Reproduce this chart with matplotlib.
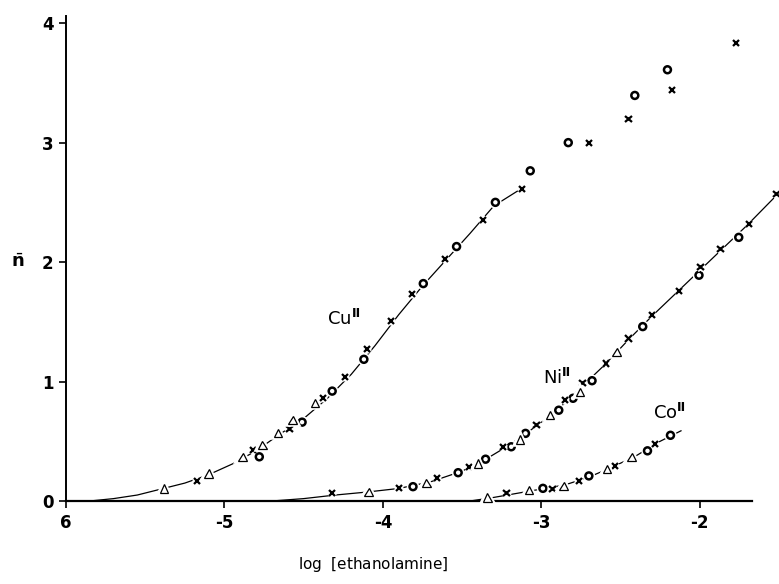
import matplotlib
matplotlib.use("Agg")
import matplotlib.pyplot as plt
import matplotlib.patheffects as pe

# --- Cu(II): measured points (circles, crosses, triangles) ---
cu_o_x = [-4.78, -4.51, -4.32, -4.12, -3.745, -3.535, -3.29, -3.07, -2.83, -2.41, -2.204]
cu_o_y = [0.37, 0.66, 0.92, 1.186, 1.82, 2.13, 2.50, 2.764, 3.00, 3.395, 3.61]
cu_x_x = [-5.175, -4.82, -4.59, -4.38, -4.24, -4.10, -3.95, -3.815, -3.61, -3.367, -3.12,
          -2.70, -2.45, -2.175, -1.773]
cu_x_y = [0.167, 0.427, 0.60, 0.86, 1.04, 1.27, 1.506, 1.73, 2.025, 2.35, 2.61,
          3.00, 3.20, 3.44, 3.835]
cu_t_x = [-5.38, -5.10, -4.885, -4.76, -4.66, -4.57, -4.43]
cu_t_y = [0.106, 0.23, 0.37, 0.47, 0.567, 0.68, 0.82]

# --- Ni(II) ---
ni_o_x = [-3.81, -3.525, -3.352, -3.19, -3.10, -2.89, -2.80, -2.68, -2.36, -2.005, -1.754]
ni_o_y = [0.12, 0.237, 0.35, 0.454, 0.566, 0.76, 0.86, 1.007, 1.46, 1.89, 2.207]
ni_x_x = [-4.32, -3.90, -3.66, -3.457, -3.24, -3.03, -2.85, -2.74, -2.59, -2.45, -2.30,
          -2.13, -1.996, -1.87, -1.69, -1.516]
ni_x_y = [0.064, 0.11, 0.195, 0.287, 0.454, 0.636, 0.845, 0.985, 1.15, 1.36, 1.557,
          1.76, 1.96, 2.11, 2.32, 2.57]
ni_t_x = [-4.09, -3.725, -3.40, -3.135, -2.946, -2.757, -2.525]
ni_t_y = [0.078, 0.148, 0.315, 0.516, 0.72, 0.915, 1.245]

# --- Co(II) ---
co_o_x = [-2.99, -2.70, -2.33, -2.185]
co_o_y = [0.106, 0.21, 0.42, 0.55]
co_x_x = [-3.22, -2.93, -2.76, -2.535, -2.284]
co_x_y = [0.064, 0.10, 0.17, 0.295, 0.48]
co_t_x = [-3.34, -3.077, -2.86, -2.585, -2.43]
co_t_y = [0.03, 0.092, 0.125, 0.27, 0.37]

# --- drawn curves ---
cu_curve_x = [-5.85, -5.7, -5.55, -5.4, -5.25, -5.1, -4.95, -4.8, -4.65, -4.5, -4.35,
              -4.2, -4.05, -3.9, -3.75, -3.6, -3.45, -3.3, -3.12]
cu_curve_y = [0.0, 0.02, 0.05, 0.1, 0.15, 0.22, 0.31, 0.42, 0.56, 0.69, 0.86,
              1.06, 1.3, 1.56, 1.80, 2.02, 2.24, 2.47, 2.62]
ni_curve_x = [-4.7, -4.5, -4.3, -4.1, -3.9, -3.7, -3.5, -3.35, -3.2, -3.05, -2.9, -2.75,
              -2.6, -2.45, -2.3, -2.15, -2.0, -1.85, -1.7, -1.5]
ni_curve_y = [0.0, 0.02, 0.05, 0.075, 0.105, 0.16, 0.25, 0.35, 0.47, 0.61, 0.76, 0.95,
              1.14, 1.35, 1.55, 1.74, 1.93, 2.12, 2.31, 2.58]
co_curve_x = [-3.45, -3.3, -3.15, -3.0, -2.85, -2.7, -2.55, -2.4, -2.25, -2.115]
co_curve_y = [0.0, 0.03, 0.065, 0.1, 0.135, 0.2, 0.285, 0.38, 0.5, 0.59]

xticks = [-6, -5, -4, -3, -2]
xtick_labels = ["6", "-5", "-4", "-3", "-2"]
yticks = [0, 1, 2, 3, 4]

fig = plt.figure(figsize=(7.79, 5.84), dpi=100)
ax = fig.add_axes([66 / 779, 1 - 501 / 584, 1 - 66 / 779, (501 - 16) / 584])

for cx, cy in [(cu_curve_x, cu_curve_y), (ni_curve_x, ni_curve_y), (co_curve_x, co_curve_y)]:
    ax.plot(cx, cy, color="black", lw=0.9, solid_capstyle="butt", zorder=2)

halo = [pe.Stroke(linewidth=4, foreground="white"), pe.Normal()]
groups = [
    (cu_o_x, cu_o_y, "o"), (cu_x_x, cu_x_y, "x"), (cu_t_x, cu_t_y, "^"),
    (ni_o_x, ni_o_y, "o"), (ni_x_x, ni_x_y, "x"), (ni_t_x, ni_t_y, "^"),
    (co_o_x, co_o_y, "o"), (co_x_x, co_x_y, "x"), (co_t_x, co_t_y, "^"),
]
for gx, gy, m in groups:
    if m == "o":
        kw = dict(markersize=5, markeredgewidth=1.8, markerfacecolor="white")
    elif m == "x":
        kw = dict(markersize=4.5, markeredgewidth=1.6)
    else:
        kw = dict(markersize=6, markeredgewidth=0.9, markerfacecolor="white")
    ln, = ax.plot(gx, gy, linestyle="none", marker=m, color="black",
                  markeredgecolor="black", zorder=3, clip_on=False, **kw)
    ln.set_path_effects(halo)

ax.text(-4.25, 1.52, r"Cu$^{\mathbf{Ⅱ}}$", fontsize=13, ha="center", va="center")
ax.text(-2.90, 1.03, r"Ni$^{\mathbf{Ⅱ}}$", fontsize=13, ha="center", va="center")
ax.text(-2.19, 0.74, r"Co$^{\mathbf{Ⅱ}}$", fontsize=13, ha="center", va="center")

ax.set_xlim(-6, -1.5)
ax.set_ylim(0, 4.06)
ax.spines["top"].set_visible(False)
ax.spines["right"].set_visible(False)
ax.spines["bottom"].set_bounds(-6, -1.67)
ax.spines["bottom"].set_linewidth(1.6)
ax.spines["left"].set_linewidth(1.4)

ax.set_xticks(xticks)
ax.set_xticklabels(xtick_labels, fontsize=12, fontweight="bold")
ax.set_yticks(yticks)
ax.set_yticklabels([str(v) for v in yticks], fontsize=12, fontweight="bold")
ax.tick_params(axis="both", direction="out", length=5, width=1.2, pad=4)

fig.text(373 / 779, 1 - 565 / 584, r"log  $\left[\mathrm{ethanolamine}\right]$", fontsize=11,
         ha="center", va="center")
fig.text(18 / 779, 1 - 262 / 584, r"$\bar{\mathbf{n}}$", fontsize=13,
         ha="center", va="center")

fig.savefig("out.png", dpi=100)
